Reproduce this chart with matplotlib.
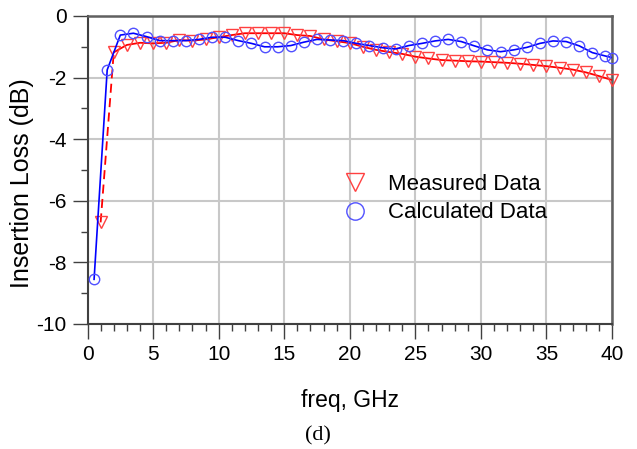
import numpy as np
import matplotlib
matplotlib.use("Agg")
import matplotlib.pyplot as plt
from matplotlib.lines import Line2D
from matplotlib.ticker import MultipleLocator

# ============================================================
# DATA
# ============================================================

# measured insertion loss, every 1 GHz
freq_meas = list(range(1, 41))
loss_meas = [
    -6.70, -1.18, -0.94, -0.87, -0.89, -0.87, -0.78, -0.80, -0.76, -0.69,
    -0.62, -0.56, -0.56, -0.56, -0.56, -0.62, -0.65, -0.76, -0.82, -0.88,
    -1.00, -1.10, -1.17, -1.23, -1.32, -1.38, -1.43, -1.45, -1.47, -1.48,
    -1.50, -1.52, -1.55, -1.59, -1.63, -1.68, -1.74, -1.83, -1.95, -2.08,
]

# calculated insertion loss, every 1 GHz starting at 0.5 GHz, plus 40 GHz
freq_calc = [f + 0.5 for f in range(40)] + [40]
loss_calc = [
    -8.55, -1.75, -0.62, -0.56, -0.67, -0.80, -0.80, -0.80, -0.76, -0.69,
    -0.69, -0.80, -0.89, -1.00, -1.00, -0.96, -0.85, -0.76, -0.78, -0.80,
    -0.89, -0.96, -1.03, -1.07, -0.96, -0.89, -0.81, -0.76, -0.83, -0.97,
    -1.10, -1.16, -1.10, -1.02, -0.89, -0.81, -0.83, -0.97, -1.19, -1.30,
    -1.35,
]

x_ticks = [0, 5, 10, 15, 20, 25, 30, 35, 40]
y_ticks = [0, -2, -4, -6, -8, -10]

# ============================================================
# PLOT
# ============================================================

plt.rcParams["font.family"] = ["Liberation Sans", "DejaVu Sans"]
plt.rcParams["axes.unicode_minus"] = False

fig = plt.figure(figsize=(6.37, 4.49), dpi=100)
ax = fig.add_axes([0.1374, 0.2784, 0.8234, 0.686])

red_line = "#ff0000"
red_mark = "#ff4040"
blue_line = "#0000ff"
blue_mark = "#5050ff"

# red trace: first segment dashed, rest solid
ax.plot(freq_meas[:2], loss_meas[:2], color=red_line, lw=1.3,
        linestyle=(0, (5, 3)), zorder=3)
ax.plot(freq_meas[1:], loss_meas[1:], color=red_line, lw=1.3, zorder=3)
ax.plot(freq_meas, loss_meas, linestyle="none", marker="v", ms=8,
        mfc="none", mec=red_mark, mew=1.0, zorder=4, clip_on=False)

ax.plot(freq_calc, loss_calc, color=blue_line, lw=1.2, zorder=5)
ax.plot(freq_calc, loss_calc, linestyle="none", marker="o", ms=7.5,
        mfc="none", mec=blue_mark, mew=1.0, zorder=6, clip_on=False)

ax.set_xlim(0, 40)
ax.set_ylim(-10, 0)
ax.set_xticks(x_ticks)
ax.set_yticks(y_ticks)
ax.xaxis.set_minor_locator(MultipleLocator(1))
ax.yaxis.set_minor_locator(MultipleLocator(1))

ax.grid(True, which="major", color="#c8c8c8", lw=1.5, zorder=0)
ax.set_axisbelow(True)

ax.tick_params(which="major", direction="out", length=11, width=1.0,
               color="#404040", labelsize=15, pad=4)
ax.tick_params(which="minor", direction="out", length=5, width=1.0,
               color="#404040")

for side in ["left", "bottom"]:
    ax.spines[side].set_color("#404040")
    ax.spines[side].set_linewidth(1.5)
for side in ["top", "right"]:
    ax.spines[side].set_color("#606060")
    ax.spines[side].set_linewidth(1.8)

ax.set_xlabel("freq, GHz", fontsize=16.5, labelpad=18)
ax.set_ylabel("Insertion Loss (dB)", fontsize=18)
ax.yaxis.set_label_coords(-0.102, 0.458)

handles = [
    Line2D([], [], linestyle="none", marker="v", ms=13, mfc="none",
           mec=red_mark, mew=1.0),
    Line2D([], [], linestyle="none", marker="o", ms=12.5, mfc="none",
           mec=blue_mark, mew=1.0),
]
ax.legend(handles, ["Measured Data", "Calculated Data"], loc="upper left",
          bbox_to_anchor=(0.489, 0.488), frameon=False, fontsize=16,
          handlelength=1.0, handletextpad=1.0, borderpad=0,
          borderaxespad=0, labelspacing=0.35)

fig.text(0.499, 0.018, "(d)", fontsize=16,
         family=["Liberation Serif", "DejaVu Serif"], ha="center")

fig.savefig("out.png", dpi=100)
